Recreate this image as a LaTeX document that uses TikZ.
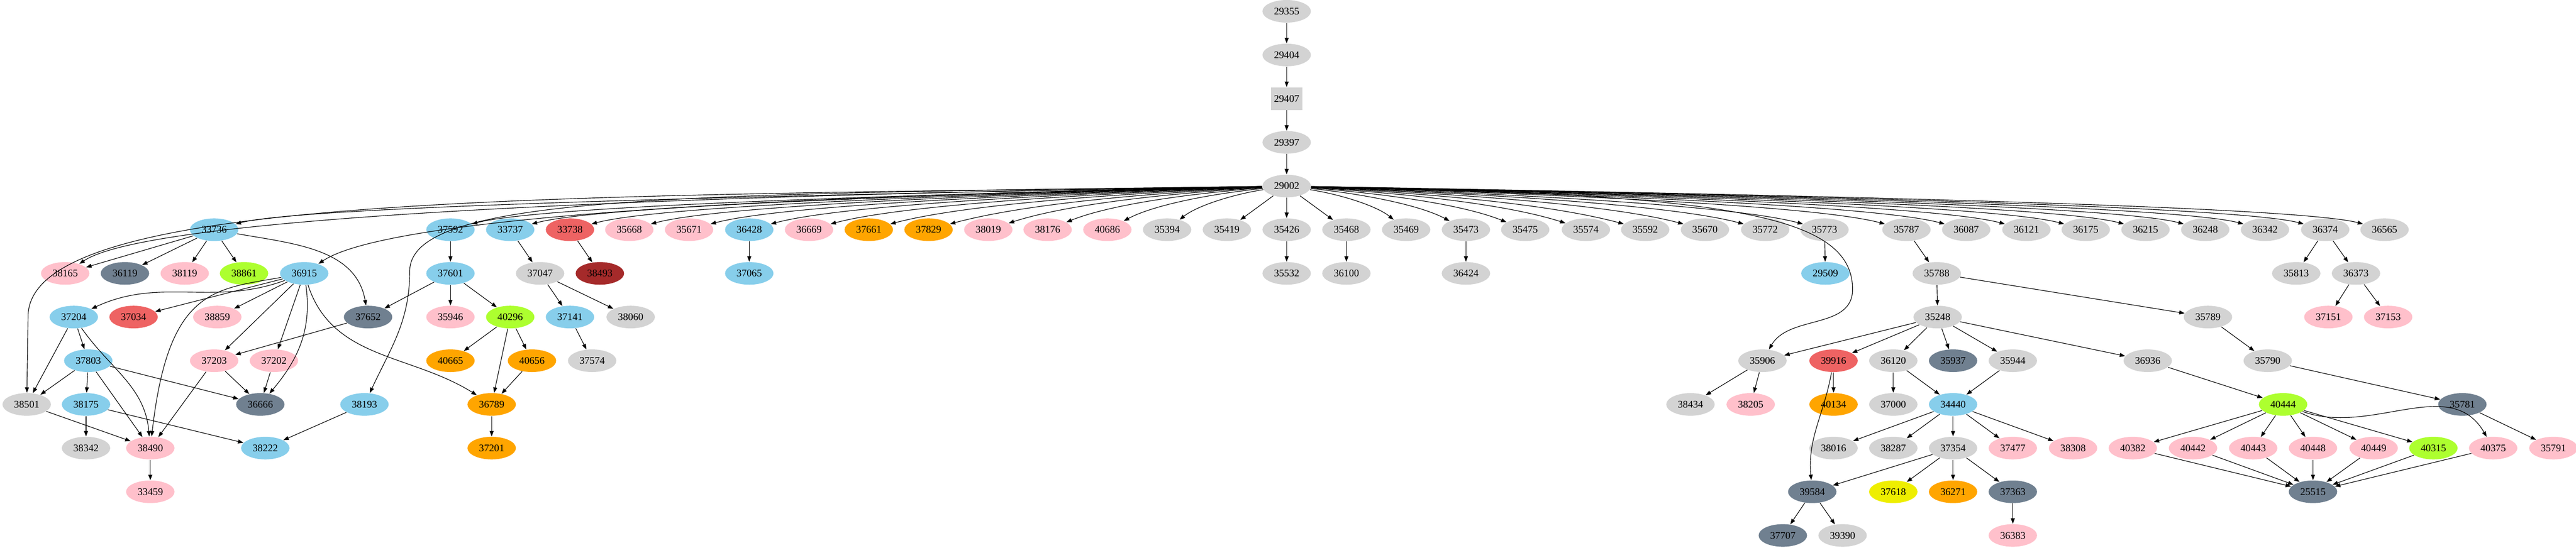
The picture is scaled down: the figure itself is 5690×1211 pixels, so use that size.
\documentclass[tikz,border=0pt]{standalone}
\usepackage{fontspec}
\setmainfont{Liberation Serif}
\usetikzlibrary{arrows.meta,shapes.geometric}
\definecolor{cB}{HTML}{87CEEB}
\definecolor{cP}{HTML}{FFC0CB}
\definecolor{cG}{HTML}{D3D3D3}
\definecolor{cS}{HTML}{708090}
\definecolor{cY}{HTML}{ADFF2F}
\definecolor{cO}{HTML}{FFA500}
\definecolor{cR}{HTML}{EE6363}
\definecolor{cD}{HTML}{A52A2A}
\definecolor{cW}{HTML}{EEEE00}
\tikzset{
 nd/.style={ellipse,fill=#1,minimum width=26.75pt,minimum height=12.5pt,inner sep=0pt,font=\fontsize{5.6}{5.6}\selectfont},
 bx/.style={rectangle,fill=cG,minimum width=17.5pt,minimum height=12.5pt,inner sep=0pt,font=\fontsize{5.6}{5.6}\selectfont},
 e/.style={-{Triangle[length=3pt,width=2.2pt]},line width=0.33pt}
}
\newcommand{\N}[4]{\node[nd=#4] (n#1) at (#2,{25+96.6*#3}) {#1};}
\newcommand{\fan}[3]{%
 \pgfmathsetmacro{\dx}{abs(#2-2842)}%
 \pgfmathsetmacro{\sg}{(#2<2842)?1:-1}%
 \pgfmathsetmacro{\cax}{2842-\sg*0.45*\dx}%
 \pgfmathsetmacro{\cbx}{#2+\sg*min(0.25*\dx,200)}%
 \draw[e] (n29002) .. controls (\cax,430) and (\cbx,#3) .. (n#1);}
\begin{document}
\begin{tikzpicture}[x=0.25pt,y=-0.25pt]
\useasboundingbox (0,0) rectangle (5690,1211);
% top chain
\N{29355}{2842}{0}{cG}
\N{29404}{2842}{1}{cG}
\node[bx] (n29407) at (2842,{25+96.6*2}) {29407};
\N{29397}{2842}{3}{cG}
\N{29002}{2842}{4}{cG}
% row 5
\N{33736}{473}{5}{cB}
\N{37592}{995}{5}{cB}
\N{33737}{1127}{5}{cB}
\N{33738}{1259}{5}{cR}
\N{35668}{1390}{5}{cP}
\N{35671}{1522}{5}{cP}
\N{36428}{1655}{5}{cB}
\N{36669}{1787}{5}{cP}
\N{37661}{1919}{5}{cO}
\N{37829}{2051}{5}{cO}
\N{38019}{2183}{5}{cP}
\N{38176}{2314}{5}{cP}
\N{40686}{2446}{5}{cP}
\N{35394}{2578}{5}{cG}
\N{35419}{2710}{5}{cG}
\N{35426}{2842}{5}{cG}
\N{35468}{2974}{5}{cG}
\N{35469}{3106}{5}{cG}
\N{35473}{3238}{5}{cG}
\N{35475}{3369}{5}{cG}
\N{35574}{3503}{5}{cG}
\N{35592}{3634}{5}{cG}
\N{35670}{3766}{5}{cG}
\N{35772}{3899}{5}{cG}
\N{35773}{4030}{5}{cG}
\N{35787}{4211}{5}{cG}
\N{36087}{4343}{5}{cG}
\N{36121}{4476}{5}{cG}
\N{36175}{4607}{5}{cG}
\N{36215}{4739}{5}{cG}
\N{36248}{4871}{5}{cG}
\N{36342}{5003}{5}{cG}
\N{36374}{5136}{5}{cG}
\N{36565}{5267}{5}{cG}
% row 6
\N{38165}{144}{6}{cP}
\N{36119}{276}{6}{cS}
\N{38119}{408}{6}{cP}
\N{38861}{539}{6}{cY}
\N{36915}{672}{6}{cB}
\N{37601}{995}{6}{cB}
\N{37047}{1193}{6}{cG}
\N{38493}{1325}{6}{cD}
\N{37065}{1655}{6}{cB}
\N{35532}{2842}{6}{cG}
\N{36100}{2974}{6}{cG}
\N{36424}{3238}{6}{cG}
\N{29509}{4032}{6}{cB}
\N{35788}{4278}{6}{cG}
\N{35813}{5072}{6}{cG}
\N{36373}{5204}{6}{cG}
% row 7
\N{37204}{163}{7}{cB}
\N{37034}{295}{7}{cR}
\N{38859}{480}{7}{cP}
\N{37652}{813}{7}{cS}
\N{35946}{995}{7}{cP}
\N{40296}{1127}{7}{cY}
\N{37141}{1259}{7}{cB}
\N{38060}{1393}{7}{cG}
\N{35248}{4280}{7}{cG}
\N{35789}{4877}{7}{cG}
\N{37151}{5143}{7}{cP}
\N{37153}{5275}{7}{cP}
% row 8
\N{37803}{195}{8}{cB}
\N{37203}{473}{8}{cP}
\N{37202}{605}{8}{cP}
\N{40665}{995}{8}{cO}
\N{40656}{1175}{8}{cO}
\N{37574}{1308}{8}{cG}
\N{35906}{3893}{8}{cG}
\N{39916}{4050}{8}{cR}
\N{36120}{4182}{8}{cG}
\N{35937}{4314}{8}{cS}
\N{35944}{4446}{8}{cG}
\N{36936}{4744}{8}{cG}
\N{35790}{5009}{8}{cG}
% row 9
\N{38501}{59}{9}{cG}
\N{38175}{190}{9}{cB}
\N{36666}{575}{9}{cS}
\N{38193}{805}{9}{cB}
\N{36789}{1086}{9}{cO}
\N{38434}{3734}{9}{cG}
\N{38205}{3867}{9}{cP}
\N{40134}{4050}{9}{cO}
\N{37000}{4182}{9}{cG}
\N{34440}{4314}{9}{cB}
\N{40444}{5043}{9}{cY}
\N{35781}{5439}{9}{cS}
% row 10
\N{38342}{190}{10}{cG}
\N{38490}{332}{10}{cP}
\N{38222}{586}{10}{cB}
\N{37201}{1086}{10}{cO}
\N{38016}{4050}{10}{cG}
\N{38287}{4182}{10}{cG}
\N{37354}{4314}{10}{cG}
\N{37477}{4446}{10}{cP}
\N{38308}{4579}{10}{cP}
\N{40382}{4711}{10}{cP}
\N{40442}{4844}{10}{cP}
\N{40443}{4977}{10}{cP}
\N{40448}{5109}{10}{cP}
\N{40449}{5243}{10}{cP}
\N{40315}{5375}{10}{cY}
\N{40375}{5507}{10}{cP}
\N{35791}{5640}{10}{cP}
% row 11
\N{33459}{332}{11}{cP}
\N{39584}{4003}{11}{cS}
\N{37618}{4182}{11}{cW}
\N{36271}{4314}{11}{cO}
\N{37363}{4446}{11}{cS}
\N{25515}{5109}{11}{cS}
% row 12
\N{37707}{3938}{12}{cS}
\N{39390}{4070}{12}{cG}
\N{36383}{4446}{12}{cP}
% edges: chain
\draw[e] (n29355)--(n29404);
\draw[e] (n29404)--(n29407);
\draw[e] (n29407)--(n29397);
\draw[e] (n29397)--(n29002);
% fan from 29002 to row 5
\foreach \t/\x in {33736/473,37592/995,33737/1127,33738/1259,35668/1390,35671/1522,36428/1655,36669/1787,37661/1919,37829/2051,38019/2183,38176/2314,40686/2446,35394/2578,35419/2710,35426/2842,35468/2974,35469/3106,35473/3238,35475/3369,35574/3503,35592/3634,35670/3766,35772/3899,35773/4030,35787/4211,36087/4343,36121/4476,36175/4607,36215/4739,36248/4871,36342/5003,36374/5136,36565/5267}{
 \pgfmathsetmacro{\ddx}{abs(\x-2842)}
 \ifdim\ddx pt<200pt
  \draw[e] (n29002)--(n\t);
 \else
  \fan{\t}{\x}{455}
 \fi
}
\fan{38165}{144}{470}
\fan{36915}{672}{470}
\draw[e] (n29002) .. controls (1200,435) and (62,425) .. (62,700) -- (n38501);
\draw[e] (n29002) .. controls (1500,430) and (905,430) .. (905,600) to[out=-90,in=65] (n38193);
\draw[e] (n29002) .. controls (3800,430) and (4092,470) .. (4092,640) to[out=-90,in=60] (n35906);
% left cluster
\foreach \a/\b in {33736/38165,33736/36119,33736/38119,33736/38861,36915/37034,36915/38859,36915/37203,36915/37202,37204/38501,37204/37803,37803/38501,37803/38175,37803/38490,37803/36666,37652/37203,37203/36666,37203/38490,37202/36666,38501/38490,38175/38342,38175/38222,38193/38222,38490/33459,37592/37601,37601/37652,37601/35946,37601/40296,40296/40665,40296/40656,40296/36789,40656/36789,36789/37201,33737/37047,37047/37141,37047/38060,37141/37574,33738/38493,36428/37065,35426/35532,35468/36100,35473/36424}
 {\draw[e] (n\a)--(n\b);}
\draw[e] (n33736) to[out=-10,in=100] (n37652);
\draw[e] (n36915) to[out=200,in=25] (n37204);
\draw[e] (n36915) .. controls (470,640) and (372,640) .. (n38490);
\draw[e] (n36915) to[out=-82,in=50] (n36666);
\draw[e] (n36915) to[out=-72,in=148] (n36789);
\draw[e] (n37204) to[out=-55,in=95] (n38490);
% right cluster
\foreach \a/\b in {35773/29509,35787/35788,36374/35813,36374/36373,36373/37151,36373/37153,35788/35248,35788/35789,35248/35906,35248/39916,35248/36120,35248/35937,35248/35944,35248/36936,35789/35790,35906/38434,35906/38205,39916/40134,36120/37000,36120/34440,35944/34440,36936/40444,35790/35781,34440/38016,34440/38287,34440/37354,34440/37477,34440/38308,40444/40382,40444/40442,40444/40443,40444/40448,40444/40449,40444/40315,35781/35791,37354/39584,37354/37618,37354/36271,37354/37363,40382/25515,40442/25515,40443/25515,40448/25515,40449/25515,40315/25515,40375/25515,39584/37707,39584/39390,37363/36383}
 {\draw[e] (n\a)--(n\b);}
\draw[e] (n40444) to[out=-20,in=120] (n40375);
\draw[e] (n39916) to[out=-100,in=95] (n39584);
\end{tikzpicture}
\end{document}
